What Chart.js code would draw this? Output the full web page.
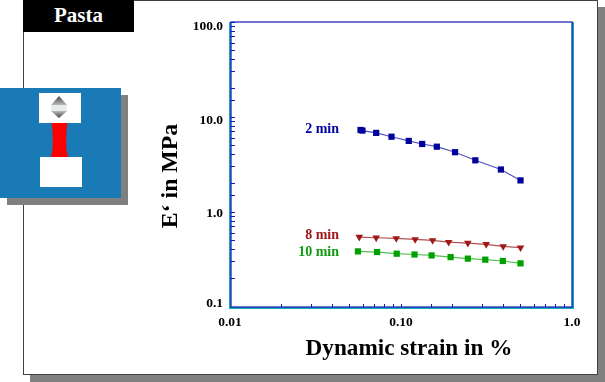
<!DOCTYPE html>
<html>
<head>
<meta charset="utf-8">
<script src="https://cdn.jsdelivr.net/npm/chart.js@4/dist/chart.umd.min.js"></script>
<style>
html, body { margin: 0; padding: 0; background: #fff; overflow: hidden; }
#stage { position: relative; width: 605px; height: 382px; font-family: "Liberation Serif", serif; font-weight: bold; }
#stage div { position: absolute; }
canvas { position: absolute; left: 0; top: 0; }
.serieslabel { font-size: 14px; white-space: nowrap; text-align: right; width: 60px; }
</style>
</head>
<body>
<div id="stage">
  <div style="left:30px;top:7px;width:575px;height:375px;background:#808080"></div>
  <div style="left:23px;top:0;width:573px;height:373px;background:#fff;border:1px solid #404040"></div>
  <div style="left:23px;top:0;width:111px;height:32px;background:#000;color:#fff;font-size:21px;line-height:31px;text-align:center">Pasta</div>

  <div style="left:7px;top:95px;width:121px;height:110px;background:#808080"></div>
  <div style="left:0;top:88px;width:121px;height:110px;background:#1a7ab5"></div>
  <div style="left:39px;top:93px;width:42px;height:30px;background:#fff"></div>
  <div style="left:40px;top:157px;width:42px;height:30px;background:#fff"></div>
  <div style="left:51px;top:123px;width:17px;height:34px;background:#f00;clip-path:polygon(4% 0,96% 0,90% 30%,90% 75%,100% 100%,0 100%,10% 75%,10% 30%)"></div>
  <div style="left:51px;top:96px;width:16px;height:9px;background:linear-gradient(#444,#bbb);clip-path:polygon(50% 0,100% 100%,0 100%)"></div>
  <div style="left:51px;top:105px;width:16px;height:6px;background:#e4ecec"></div>
  <div style="left:51px;top:111px;width:16px;height:7px;background:linear-gradient(#bbb,#444);clip-path:polygon(0 0,100% 0,50% 100%)"></div>

  <canvas id="chart" width="605" height="382"></canvas>

  <div style="left:270px;top:334px;width:278px;text-align:center;font-size:23.2px;line-height:26px;white-space:nowrap">Dynamic strain in %</div>
  <div style="left:69px;top:163px;width:200px;text-align:center;font-size:23.8px;line-height:26px;transform:rotate(-90deg);white-space:nowrap">E‘ in MPa</div>
  <div class="serieslabel" style="left:279px;top:121px;color:#0000a0">2 min</div>
  <div class="serieslabel" style="left:279px;top:227px;color:#a01818">8 min</div>
  <div class="serieslabel" style="left:279px;top:244px;color:#109a10">10 min</div>
</div>
<script>
const xTickValues = [0.01, 0.1, 1];
const xTickLabels = ['0.01', '0.10', '1.0'];
const yTickValues = [0.1, 1, 10, 100];
const yTickLabels = ['0.1', '1.0', '10.0', '100.0'];

const strain2 = [0.058, 0.0595, 0.0716, 0.088, 0.111, 0.133, 0.162, 0.207, 0.272, 0.384, 0.5];
const modulus2 = [7.3, 7.2, 6.8, 6.2, 5.6, 5.2, 4.87, 4.26, 3.5, 2.8, 2.15];
const strain8 = [0.057, 0.0716, 0.0938, 0.121, 0.153, 0.19, 0.246, 0.315, 0.396, 0.5];
const modulus8 = [0.545, 0.536, 0.528, 0.515, 0.502, 0.482, 0.471, 0.457, 0.434, 0.421];
const strain10 = [0.056, 0.0725, 0.0944, 0.12, 0.151, 0.195, 0.246, 0.311, 0.394, 0.5];
const modulus10 = [0.385, 0.379, 0.364, 0.357, 0.349, 0.335, 0.323, 0.315, 0.305, 0.288];

function toPoints(xs, ys) {
    return xs.map((x, i) => ({ x: x, y: ys[i] }));
}

function labelIndex(values, value) {
    return values.findIndex(v => Math.abs(v - value) < v * 0.001);
}

// frame round the plot, the library only draws the left and bottom edge
const frame = {
    id: 'frame',
    afterDraw(chart) {
        const a = chart.chartArea, ctx = chart.ctx;
        ctx.save();
        ctx.strokeStyle = '#18a8b8';
        ctx.lineWidth = 2;
        ctx.beginPath();
        ctx.moveTo(a.left, a.top);
        ctx.lineTo(a.left, a.bottom + 1);
        ctx.lineTo(a.right + 1, a.bottom + 1);
        ctx.lineTo(a.right + 1, a.top);
        ctx.stroke();
        ctx.strokeStyle = '#1414b4';
        ctx.lineWidth = 1.2;
        ctx.strokeRect(a.left + 1, a.top, a.right - a.left - 1, a.bottom - a.top);
        ctx.restore();
    }
};

function line(label, xs, ys, color, lineColor, marker) {
    return {
        label: label,
        data: toPoints(xs, ys),
        showLine: true,
        borderColor: lineColor,
        backgroundColor: color,
        borderWidth: 1.2,
        pointStyle: marker,
        pointRadius: 4.4,
        pointRotation: marker === 'triangle' ? 180 : 0,
        pointBorderWidth: 0,
        pointBackgroundColor: color,
        tension: 0
    };
}

// the y labels sit a little off their ticks in the original
const yLabelShift = [-3, 0.8, 2.7, 4];

new Chart(document.getElementById('chart'), {
    type: 'scatter',
    data: {
        datasets: [
            line('2 min', strain2, modulus2, '#00009a', '#5050c0', 'rect'),
            line('8 min', strain8, modulus8, '#a01818', '#b05050', 'triangle'),
            line('10 min', strain10, modulus10, '#00a000', '#50c050', 'rect')
        ]
    },
    options: {
        responsive: false,
        animation: false,
        layout: { padding: { left: 0, top: 22, right: 33, bottom: 0 } },
        plugins: { legend: { display: false }, tooltip: { enabled: false } },
        scales: {
            x: {
                type: 'logarithmic',
                min: 0.01,
                max: 1,
                afterFit(scale) { scale.height = 75; },
                border: { display: false },
                grid: { drawOnChartArea: false, tickLength: -3, tickColor: '#1818b8', tickWidth: 1 },
                ticks: {
                    autoSkip: false,
                    maxRotation: 0,
                    padding: 10,
                    color: '#000',
                    font: { family: 'Liberation Serif', size: 13.5, weight: 'bold' },
                    callback(value) {
                        let i = labelIndex(xTickValues, value);
                        return i >= 0 ? xTickLabels[i] : '';
                    }
                }
            },
            y: {
                type: 'logarithmic',
                min: 0.1,
                max: 100,
                afterFit(scale) { scale.width = 230; },
                border: { display: false },
                grid: { drawOnChartArea: false, tickLength: -5, tickColor: '#1818b8', tickWidth: 1 },
                ticks: {
                    autoSkip: false,
                    padding: 12,
                    color: '#000',
                    font(ctx) {
                        let i = ctx.tick ? labelIndex(yTickValues, ctx.tick.value) : -1;
                        let shift = i >= 0 ? Math.abs(yLabelShift[i]) : 0;
                        return { family: 'Liberation Serif', size: 13.5, weight: 'bold', lineHeight: (2 * shift + 1) + 'px' };
                    },
                    callback(value) {
                        let i = labelIndex(yTickValues, value);
                        if (i < 0) return '';
                        return yLabelShift[i] > 0 ? ['', yTickLabels[i]] : [yTickLabels[i], ''];
                    }
                }
            }
        }
    },
    plugins: [frame]
});
</script>
</body>
</html>
